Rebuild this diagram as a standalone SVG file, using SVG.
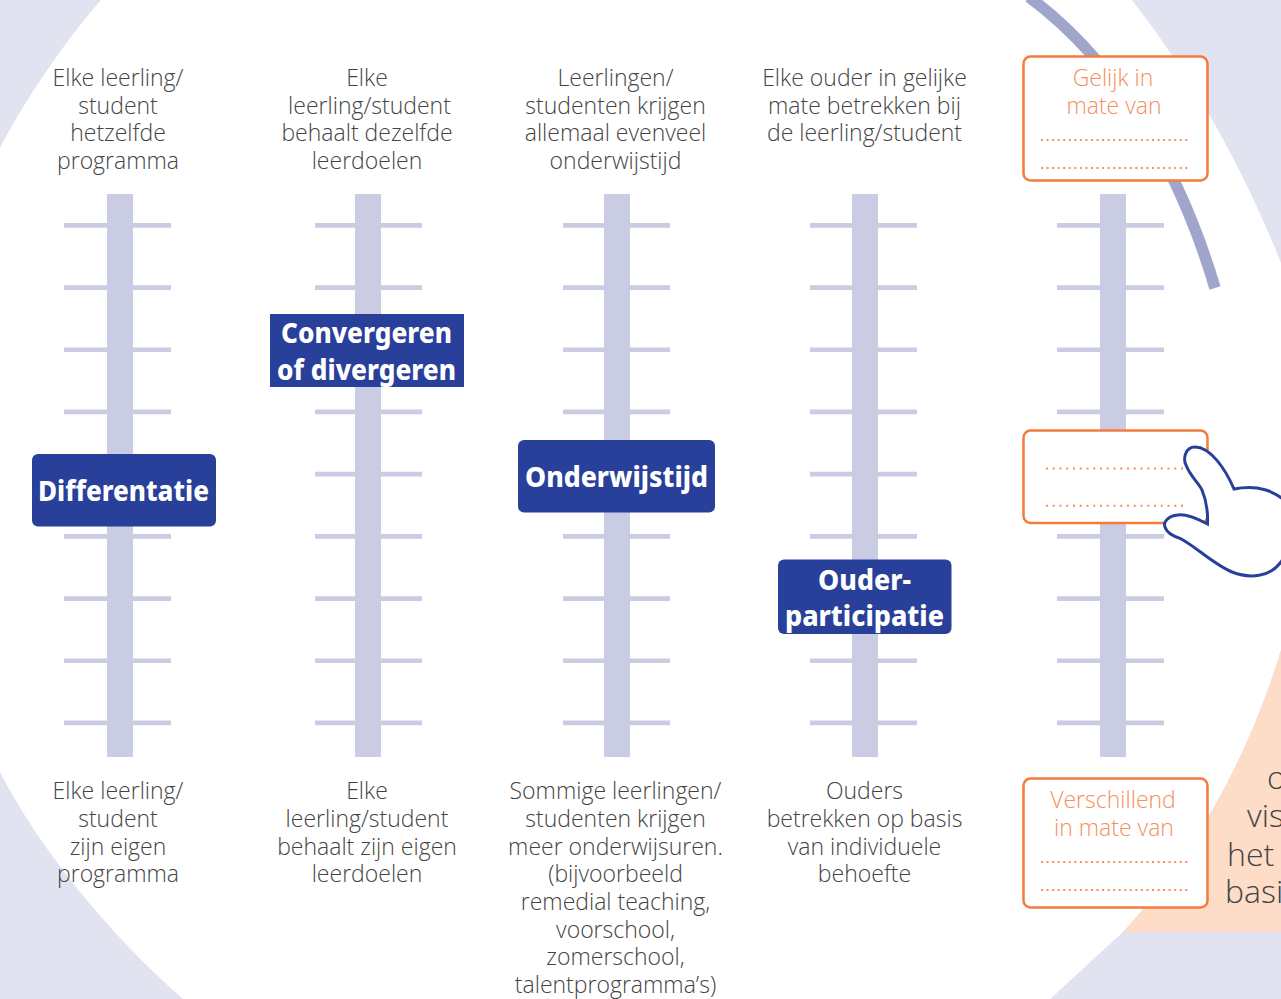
<svg xmlns="http://www.w3.org/2000/svg" width="1281" height="999" viewBox="0 0 1281 999">
<style>
.body{font-family:"Open Sans","Liberation Sans",sans-serif;font-weight:300;font-size:23px;fill:#444;text-anchor:middle}
.big{font-family:"Open Sans","Liberation Sans",sans-serif;font-weight:300;font-size:32px;fill:#444;text-anchor:start}
.or{font-family:"Open Sans","Liberation Sans",sans-serif;font-weight:300;font-size:23px;fill:#f58f5c;text-anchor:middle}
.lab{font-family:"Noto Sans","Liberation Sans",sans-serif;font-weight:800;font-size:28px;fill:#fff;text-anchor:middle}
.bar{fill:#c9cce2}
.box{fill:#fff;stroke:#f47b3b;stroke-width:2.500}
.dot{stroke:#f58f5c;stroke-width:2;stroke-dasharray:2 3.550;fill:none}
.dot2{stroke:#f58f5c;stroke-width:2;stroke-dasharray:2 4.750;fill:none}
.blue{fill:#29409a}
</style>
<defs>
<rect id="bar" class="bar" x="0" y="194" width="26" height="563"/>
<path id="ticks" class="bar" d="M0 223h107v4.700h-107zM0 285.200h107v4.700h-107zM0 347.400h107v4.700h-107zM0 409.600h107v4.700h-107zM0 471.800h107v4.700h-107zM0 534h107v4.700h-107zM0 596.200h107v4.700h-107zM0 658.400h107v4.700h-107zM0 720.600h107v4.700h-107z"/>
</defs>
<rect id="bg" width="1281" height="999" fill="#e1e3f0"/>
<path id="circle" d="M101 0C62 45 25 100 0 148L-40 148L-40 772L0 772C40 850 110 935 183 999L1050 999L1123 932C1185 865 1245 770 1281 650L1320 650L1320 263L1281 263C1240 160 1190 75 1132 0Z" fill="#fff"/>
<path id="peach" d="M1123 932C1185 865 1245 770 1281 650V932Z" fill="#fddcc8"/>
<path id="arc" d="M1029 -3C1120 65 1180 170 1215 288" fill="none" stroke="#a0a5cc" stroke-width="11.500"/>
<g id="scale1"><use href="#ticks" x="64"/><use href="#bar" x="107"/></g>
<g id="scale2"><use href="#ticks" x="315"/><use href="#bar" x="355"/></g>
<g id="scale3"><use href="#ticks" x="563"/><use href="#bar" x="604"/></g>
<g id="scale4"><use href="#ticks" x="810"/><use href="#bar" x="852"/></g>
<g id="scale5"><use href="#ticks" x="1057"/><use href="#bar" x="1100"/></g>
<g id="col1">
<text class="body" x="118" y="86">Elke leerling/</text><text class="body" x="118" y="114">student</text><text class="body" x="118" y="141">hetzelfde</text><text class="body" x="118" y="169">programma</text>
<text class="body" x="118" y="799">Elke leerling/</text><text class="body" x="118" y="827">student</text><text class="body" x="118" y="855">zijn eigen</text><text class="body" x="118" y="882">programma</text>
</g>
<g id="col2">
<text class="body" x="367" y="86">Elke</text><text class="body" x="369.500" y="114">leerling/student</text><text class="body" x="367" y="141">behaalt dezelfde</text><text class="body" x="367" y="169">leerdoelen</text>
<text class="body" x="367" y="799">Elke</text><text class="body" x="367" y="827">leerling/student</text><text class="body" x="367" y="855">behaalt zijn eigen</text><text class="body" x="367" y="882">leerdoelen</text>
</g>
<g id="col3">
<text class="body" x="615.500" y="86">Leerlingen/</text><text class="body" x="615.500" y="114">studenten krijgen</text><text class="body" x="615.500" y="141">allemaal evenveel</text><text class="body" x="615.500" y="169">onderwijstijd</text>
<text class="body" x="615.500" y="799">Sommige leerlingen/</text><text class="body" x="615.500" y="827">studenten krijgen</text><text class="body" x="615.500" y="855">meer onderwijsuren.</text><text class="body" x="615.500" y="882">(bijvoorbeeld</text><text class="body" x="615.500" y="910">remedial teaching,</text><text class="body" x="615.500" y="938">voorschool,</text><text class="body" x="615.500" y="965">zomerschool,</text><text class="body" x="615.500" y="993">talentprogramma’s)</text>
</g>
<g id="col4">
<text class="body" x="864.500" y="86">Elke ouder in gelijke</text><text class="body" x="864.500" y="114">mate betrekken bij</text><text class="body" x="864.500" y="141">de leerling/student</text>
<text class="body" x="864.500" y="799">Ouders</text><text class="body" x="864.500" y="827">betrekken op basis</text><text class="body" x="864.500" y="855">van individuele</text><text class="body" x="864.500" y="882">behoefte</text>
</g>
<g id="lab1"><rect class="blue" x="32" y="454" width="184" height="72.500" rx="6"/><text class="lab" x="123.500" y="501" textLength="171" lengthAdjust="spacingAndGlyphs">Differentatie</text></g>
<g id="lab2"><rect class="blue" x="270" y="314" width="194" height="73"/><text class="lab" x="366.500" y="343" textLength="171" lengthAdjust="spacingAndGlyphs">Convergeren</text><text class="lab" x="366.500" y="380" textLength="179" lengthAdjust="spacingAndGlyphs">of divergeren</text></g>
<g id="lab3"><rect class="blue" x="518" y="440" width="197" height="72.500" rx="6"/><text class="lab" x="616.500" y="487" textLength="183" lengthAdjust="spacingAndGlyphs">Onderwijstijd</text></g>
<g id="lab4"><rect class="blue" x="778" y="559.500" width="173.500" height="74.500" rx="6"/><text class="lab" x="864.500" y="590" textLength="93" lengthAdjust="spacingAndGlyphs">Ouder-</text><text class="lab" x="864.500" y="626" textLength="159" lengthAdjust="spacingAndGlyphs">participatie</text></g>
<g id="box1"><rect class="box" x="1023.500" y="56.500" width="184" height="124" rx="7"/><text class="or" x="1113" y="86">Gelijk in</text><text class="or" x="1114" y="114">mate van</text><path class="dot" d="M1041 140H1188M1041 168H1188"/></g>
<g id="box2"><rect class="box" x="1023.500" y="430.500" width="184" height="92.500" rx="7"/><path class="dot2" d="M1046 468.500H1184M1046 505.700H1184"/></g>
<g id="box3"><rect class="box" x="1023.500" y="778.500" width="184" height="129" rx="7"/><text class="or" x="1113" y="808">Verschillend</text><text class="or" x="1114" y="836">in mate van</text><path class="dot" d="M1041 862H1188M1041 890H1188"/></g>
<path id="hand" d="M1295 510C1275 488 1255 485 1234 489C1225 468 1210 447 1195 447C1185 447 1183 459 1186 465C1190 476 1198 482 1202 490C1207 502 1208 512 1207.500 524C1196 518 1185 514 1178 515C1168 516 1163 522 1165 527C1167 534 1175 536 1183 540C1197 548 1215 565 1232 572C1250 579 1270 577 1281 562L1295 540" fill="#fff" stroke="#29409a" stroke-width="3"/>
<g id="cut">
<text class="big" x="1267" y="789">o</text><text class="big" x="1247" y="827">vis</text>
<text class="big" x="1227" y="866">het</text><text class="big" x="1225" y="903">basi</text>
</g>
</svg>
